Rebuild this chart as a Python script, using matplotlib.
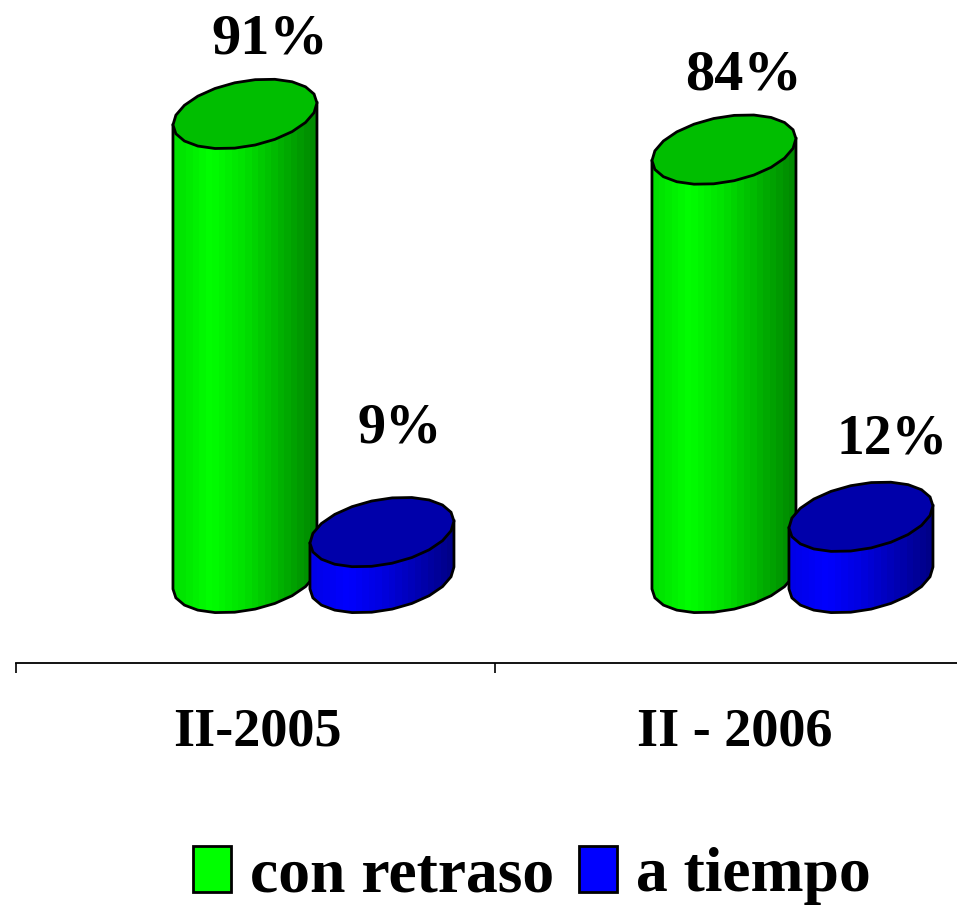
import matplotlib
matplotlib.use("Agg")
import matplotlib.pyplot as plt
import numpy as np
from matplotlib.colors import LinearSegmentedColormap
from matplotlib.patches import Patch, Polygon

periods = ["II-2005", "II - 2006"]
series_names = ["con retraso", "a tiempo"]
con_retraso = [91, 84]
a_tiempo = [9, 12]

# offsets of the value labels from the top of each cylinder, in pixels
label_dx = [[25, 18], [20, 31]]
label_dy = [[74, 104], [74, 77]]
label_size = [[42, 40.5], [42, 40]]

WIDTH, HEIGHT = 957, 910
PX_PER_CAT = 479.0
PX_PER_UNIT = 5.1
BAR_POS = [0.478, 0.764]
HALF_W = 72 / PX_PER_CAT
HALF_H = 33 / PX_PER_UNIT
TILT = 11 / PX_PER_UNIT
SERIF = "Liberation Serif"


def px(n):
    return n * 72 / 100


def rim(cx, cy, n=22):
    # tilted ellipse, kept a bit polygonal like the original
    t = np.linspace(0, 2 * np.pi, n, endpoint=False)
    return np.column_stack([cx + HALF_W * np.cos(t), cy + HALF_H * np.sin(t) + TILT * np.cos(t)])


def cylinder(ax, cx, value, cmap, top_color, z):
    top = rim(cx, value)
    # outline of the body: both sides plus the lower half of the base rim
    lower = np.linspace(np.pi, 2 * np.pi, 12)
    base_x = cx + HALF_W * np.cos(lower)
    base_y = HALF_H * np.sin(lower) + TILT * np.cos(lower)
    body = np.column_stack([
        np.r_[cx - HALF_W, base_x, cx + HALF_W],
        np.r_[value - TILT, base_y, value + TILT],
    ])
    outline = Polygon(body, closed=True, fc="none", ec="black", lw=2, zorder=z + 1)
    ax.add_patch(outline)
    grad = np.linspace(0, 1, 22).reshape(1, -1)
    im = ax.imshow(grad, cmap=cmap, aspect="auto", interpolation="nearest", zorder=z,
                   extent=[cx - HALF_W, cx + HALF_W, -HALF_H - TILT, value + TILT])
    im.set_clip_path(outline)
    ax.add_patch(Polygon(top, closed=True, fc=top_color, ec="black", lw=2, zorder=z + 2))


fig = plt.figure(figsize=(WIDTH / 100, HEIGHT / 100), dpi=100)
ax = fig.add_axes([16 / WIDTH, (HEIGHT - 663) / HEIGHT, (WIDTH - 16) / WIDTH, 663 / HEIGHT])
ax.patch.set_alpha(0)

greens = LinearSegmentedColormap.from_list("g", ["#00e000", "#00ff00", "#00e000", "#00b400", "#008a00"])
blues = LinearSegmentedColormap.from_list("b", ["#0000e8", "#0000ff", "#0000e0", "#0000b4", "#000088"])

for i in range(len(periods)):
    for j, (vals, cmap, top_color) in enumerate([(con_retraso, greens, "#00be00"), (a_tiempo, blues, "#0000aa")]):
        cx = i + BAR_POS[j]
        cylinder(ax, cx, vals[i], cmap, top_color, 2 + 3 * j)
        ax.annotate(f"{vals[i]}%", (cx, vals[i]), xytext=(px(label_dx[i][j]), px(label_dy[i][j])),
                    textcoords="offset points", ha="center", va="center", family=SERIF,
                    fontweight="bold", fontsize=label_size[i][j], color="black", zorder=12)

ax.set_xlim(0, (WIDTH - 16) / PX_PER_CAT)
ax.set_ylim(-(663 - 578) / PX_PER_UNIT, 578 / PX_PER_UNIT)

for side in ["top", "left", "right"]:
    ax.spines[side].set_visible(False)
ax.spines["bottom"].set_linewidth(1.3)
ax.set_yticks([])
ax.set_xticks([0, 1])
ax.set_xticklabels([])
ax.tick_params(axis="x", which="major", length=px(10), width=1.2)
ax.set_xticks([0.503, 1.5], minor=True)
ax.set_xticklabels(periods, minor=True, family=SERIF, fontweight="bold", fontsize=39)
ax.tick_params(axis="x", which="minor", length=0, pad=px(45))

handles = [Patch(fc="#00ff00", ec="black", lw=2), Patch(fc="#0000ff", ec="black", lw=2)]
fig.legend(handles, series_names, loc="lower left", bbox_to_anchor=(193 / WIDTH, 1 - 905 / HEIGHT),
           ncol=2, frameon=False, borderpad=0, borderaxespad=0, handlelength=0.6, handleheight=0.74,
           handletextpad=0.3, columnspacing=0.39,
           prop={"family": SERIF, "weight": "bold", "size": 45.8})

fig.savefig("out.png", dpi=100)
